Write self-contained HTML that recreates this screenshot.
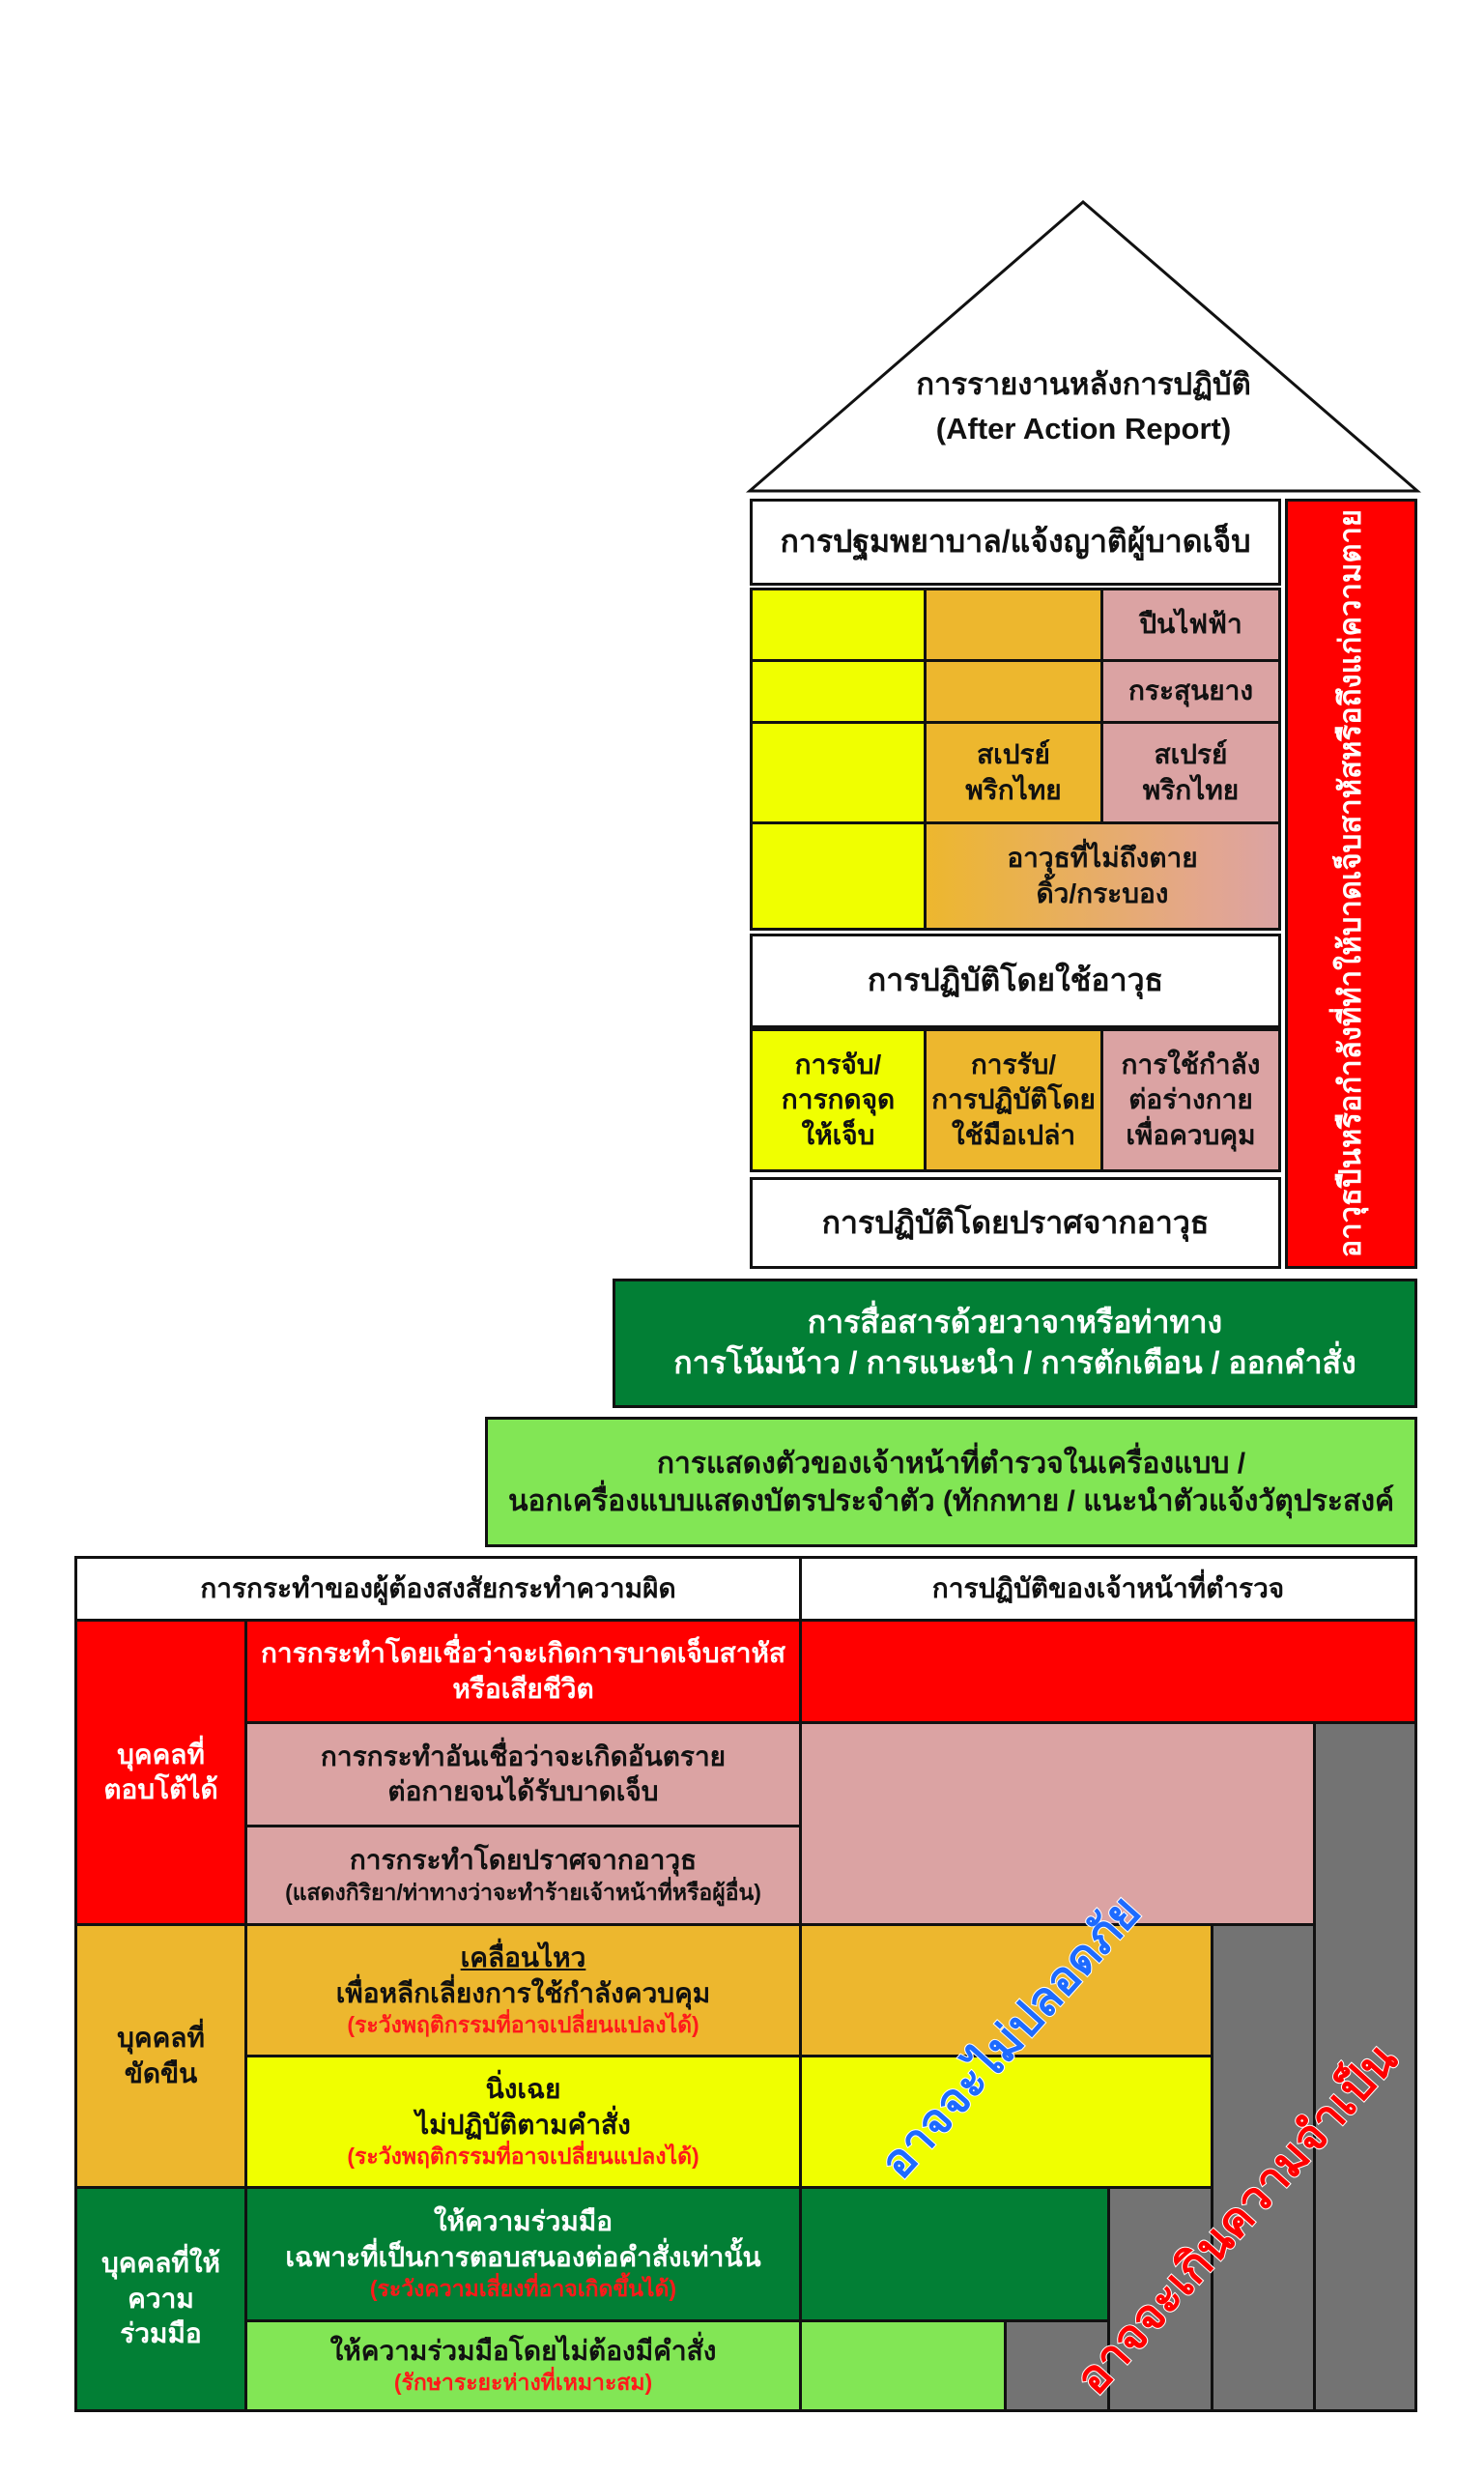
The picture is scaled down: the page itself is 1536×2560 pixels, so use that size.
<!DOCTYPE html>
<html><head><meta charset="utf-8"><style>
body{margin:0;width:1536px;height:2560px;background:#fff;position:relative;overflow:hidden;font-family:"Liberation Sans","DejaVu Sans","Noto Sans CJK SC",sans-serif;}
.c{position:absolute;box-sizing:border-box;border:3px solid #111;display:flex;flex-direction:column;align-items:center;justify-content:center;text-align:center;font-weight:bold;color:#111;line-height:1.3;}
.y{background:#f0ff00}.o{background:#edb72e}.p{background:#dba3a3}.r{background:#ff0000}.dg{background:#027f35}.lg{background:#82e655}.g{background:#737373}.w{background:#fff}
.f30{font-size:32px}.f27{font-size:28px}.f24{font-size:24px}
.red{color:#ff1a1a;font-size:23px}
</style></head><body>
<svg style="position:absolute;left:0;top:0" width="1536" height="520">
<polygon points="1121,209 776,508 1467,508" fill="#fff" stroke="#111" stroke-width="3"/>
</svg>
<div style="position:absolute;left:776px;width:691px;top:375px;text-align:center;font-weight:bold;font-size:31px;line-height:46px;color:#111">การรายงานหลังการปฏิบัติ<br>(After Action Report)</div>

<div class="c w f30" style="left:776px;top:516px;width:550px;height:90px">การปฐมพยาบาล/แจ้งญาติผู้บาดเจ็บ</div>
<div class="c y" style="left:776px;top:608px;width:183px;height:77px"></div>
<div class="c o" style="left:956px;top:608px;width:186px;height:77px"></div>
<div class="c p f27" style="left:1139px;top:608px;width:187px;height:77px">ปืนไฟฟ้า</div>
<div class="c y" style="left:776px;top:682px;width:183px;height:67px"></div>
<div class="c o" style="left:956px;top:682px;width:186px;height:67px"></div>
<div class="c p f27" style="left:1139px;top:682px;width:187px;height:67px">กระสุนยาง</div>
<div class="c y" style="left:776px;top:746px;width:183px;height:107px"></div>
<div class="c o f27" style="left:956px;top:746px;width:186px;height:107px">สเปรย์<br>พริกไทย</div>
<div class="c p f27" style="left:1139px;top:746px;width:187px;height:107px">สเปรย์<br>พริกไทย</div>
<div class="c y" style="left:776px;top:850px;width:183px;height:113px"></div>
<div class="c f27" style="left:956px;top:850px;width:370px;height:113px;background:linear-gradient(90deg,#edb72e,#e3a68f 80%,#dba3a3)">อาวุธที่ไม่ถึงตาย<br>ดิ้ว/กระบอง</div>
<div class="c w f30" style="left:776px;top:966px;width:550px;height:98px">การปฏิบัติโดยใช้อาวุธ</div>
<div class="c y f27" style="left:776px;top:1064px;width:183px;height:149px">การจับ/<br>การกดจุด<br>ให้เจ็บ</div>
<div class="c o f27" style="left:956px;top:1064px;width:186px;height:149px">การรับ/<br>การปฏิบัติโดย<br>ใช้มือเปล่า</div>
<div class="c p f27" style="left:1139px;top:1064px;width:187px;height:149px">การใช้กำลัง<br>ต่อร่างกาย<br>เพื่อควบคุม</div>
<div class="c w f30" style="left:776px;top:1218px;width:550px;height:95px">การปฏิบัติโดยปราศจากอาวุธ</div>
<div class="c r" style="left:1330px;top:516px;width:137px;height:797px"><div style="transform:rotate(-90deg);white-space:nowrap;color:#fff;font-size:31px">อาวุธปืนหรือกำลังที่ทำให้บาดเจ็บสาหัสหรือถึงแก่ความตาย</div></div>

<div class="c dg f30" style="left:634px;top:1323px;width:833px;height:134px;color:#fff">การสื่อสารด้วยวาจาหรือท่าทาง<br>การโน้มน้าว / การแนะนำ / การตักเตือน / ออกคำสั่ง</div>
<div class="c lg" style="left:502px;top:1466px;width:965px;height:135px;font-size:30px;white-space:nowrap">การแสดงตัวของเจ้าหน้าที่ตำรวจในเครื่องแบบ /<br>นอกเครื่องแบบแสดงบัตรประจำตัว (ทักกทาย / แนะนำตัวแจ้งวัตุประสงค์</div>

<div class="c w f27" style="left:77px;top:1610px;width:753px;height:68px">การกระทำของผู้ต้องสงสัยกระทำความผิด</div>
<div class="c w f27" style="left:827px;top:1610px;width:640px;height:68px">การปฏิบัติของเจ้าหน้าที่ตำรวจ</div>

<div class="c r f27" style="left:77px;top:1675px;width:179px;height:318px;color:#fff">บุคคลที่<br>ตอบโต้ได้</div>
<div class="c o f27" style="left:77px;top:1990px;width:179px;height:275px">บุคคลที่<br>ขัดขืน</div>
<div class="c dg f27" style="left:77px;top:2262px;width:179px;height:234px;color:#fff">บุคคลที่ให้<br>ความ<br>ร่วมมือ</div>

<div class="c r f27" style="left:253px;top:1675px;width:577px;height:109px;color:#fff">การกระทำโดยเชื่อว่าจะเกิดการบาดเจ็บสาหัส<br>หรือเสียชีวิต</div>
<div class="c p f27" style="left:253px;top:1781px;width:577px;height:110px">การกระทำอันเชื่อว่าจะเกิดอันตราย<br>ต่อกายจนได้รับบาดเจ็บ</div>
<div class="c p f27" style="left:253px;top:1888px;width:577px;height:105px">การกระทำโดยปราศจากอาวุธ<br><span style="font-size:23px">(แสดงกิริยา/ท่าทางว่าจะทำร้ายเจ้าหน้าที่หรือผู้อื่น)</span></div>
<div class="c o f27" style="left:253px;top:1990px;width:577px;height:139px"><u>เคลื่อนไหว</u>เพื่อหลีกเลี่ยงการใช้กำลังควบคุม<span class="red">(ระวังพฤติกรรมที่อาจเปลี่ยนแปลงได้)</span></div>
<div class="c y f27" style="left:253px;top:2126px;width:577px;height:139px">นิ่งเฉย<br>ไม่ปฏิบัติตามคำสั่ง<span class="red">(ระวังพฤติกรรมที่อาจเปลี่ยนแปลงได้)</span></div>
<div class="c dg f27" style="left:253px;top:2262px;width:577px;height:141px;color:#fff">ให้ความร่วมมือ<br>เฉพาะที่เป็นการตอบสนองต่อคำสั่งเท่านั้น<span class="red">(ระวังความเสี่ยงที่อาจเกิดขึ้นได้)</span></div>
<div class="c lg f27" style="left:253px;top:2400px;width:577px;height:96px">ให้ความร่วมมือโดยไม่ต้องมีคำสั่ง<span class="red">(รักษาระยะห่างที่เหมาะสม)</span></div>

<div class="c r" style="left:827px;top:1675px;width:640px;height:109px"></div>
<div class="c p" style="left:827px;top:1781px;width:535px;height:212px"></div>
<div class="c g" style="left:1359px;top:1781px;width:108px;height:715px"></div>
<div class="c o" style="left:827px;top:1990px;width:429px;height:139px"></div>
<div class="c y" style="left:827px;top:2126px;width:429px;height:139px"></div>
<div class="c g" style="left:1253px;top:1990px;width:109px;height:506px"></div>
<div class="c dg" style="left:827px;top:2262px;width:322px;height:141px"></div>
<div class="c g" style="left:1146px;top:2262px;width:110px;height:234px"></div>
<div class="c lg" style="left:827px;top:2400px;width:215px;height:96px"></div>
<div class="c g" style="left:1039px;top:2400px;width:110px;height:96px"></div>

<div style="position:absolute;left:1046px;top:2108px;transform:translate(-50%,-50%) rotate(-48deg);white-space:nowrap;font-weight:bold;font-size:48px;color:#1e6bff;-webkit-text-stroke:2px #fff;paint-order:stroke fill">อาจจะไม่ปลอดภัย</div>
<div style="position:absolute;left:1280px;top:2296px;transform:translate(-50%,-50%) rotate(-48deg);white-space:nowrap;font-weight:bold;font-size:48px;color:#ff0000;-webkit-text-stroke:2px #fff;paint-order:stroke fill">อาจจะเกินความจำเป็น</div>
</body></html>
